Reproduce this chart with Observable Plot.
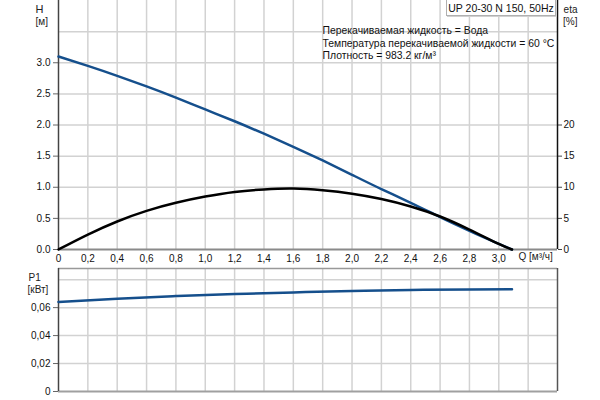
<!DOCTYPE html>
<html><head><meta charset="utf-8">
<script src="https://cdn.jsdelivr.net/npm/d3@7"></script>
<script src="https://cdn.jsdelivr.net/npm/@observablehq/plot@0.6"></script>
<style>
body{margin:0;background:#fff;}
#wrap{position:relative;width:600px;height:400px;overflow:hidden;font-family:"Liberation Sans",Arial,sans-serif;}
#top,#bot{position:absolute;left:0;}
#top{top:0}
#bot{top:267px}
#legend{position:absolute;left:446px;top:-2px;width:108px;height:16px;border:1px solid #b0b0b0;box-shadow:1px 1px 0 #d0d0d0;background:#fff;font-size:10.5px;line-height:18px;text-align:center;color:#111}
</style></head><body>
<div id="wrap"><div id="top"></div><div id="bot"></div><div id="legend">UP 20-30 N 150, 50Hz</div></div>
<script>
// Data
const qH   = [0, 0.2, 0.4, 0.6, 0.8, 1.0, 1.2, 1.4, 1.6, 1.8, 2.0, 2.2, 2.4, 2.6, 2.8, 3.0, 3.09];
const hVal = [3.10, 2.95, 2.79, 2.62, 2.44, 2.25, 2.06, 1.86, 1.65, 1.43, 1.20, 0.97, 0.75, 0.52, 0.30, 0.09, 0];
const etaVal = [0, 2.4, 4.5, 6.2, 7.5, 8.5, 9.25, 9.65, 9.78, 9.5, 8.95, 8.1, 6.9, 5.3, 3.2, 0.9, 0];
const qP   = [0, 0.4, 0.8, 1.2, 1.6, 2.0, 2.4, 2.8, 3.09];
const p1Val = [0.0641, 0.0664, 0.0683, 0.0697, 0.0709, 0.0719, 0.0726, 0.0730, 0.0731];

const qTicks = [0, 0.2, 0.4, 0.6, 0.8, 1.0, 1.2, 1.4, 1.6, 1.8, 2.0, 2.2, 2.4, 2.6, 2.8, 3.0];
const qGrid = [0.2, 0.4, 0.6, 0.8, 1.0, 1.2, 1.4, 1.6, 1.8, 2.0, 2.2, 2.4, 2.6, 2.8, 3.0, 3.2];
const hTicks = [0, 0.5, 1.0, 1.5, 2.0, 2.5, 3.0];
const hGrid = [0.5, 1.0, 1.5, 2.0, 2.5, 3.0, 3.5];
const etaTicks = [0, 5, 10, 15, 20];
const pTicks = [0, 0.02, 0.04, 0.06];
const pGrid = [0.02, 0.04, 0.06, 0.08];

const hData = qH.map((q, i) => ({q, h: hVal[i]}));
const etaData = qH.map((q, i) => ({q, eta: etaVal[i]}));
const pData = qP.map((q, i) => ({q, p: p1Val[i]}));

const blue = "#154f8c";
const gridStyle = {stroke: "#d2d2d2", strokeOpacity: 1, strokeWidth: 1.5};
const font = "Liberation Sans, Arial, sans-serif";
const commaFmt = (digits) => d => d === 0 ? "0" : d3.format("." + digits + "f")(d).replace(".", ",");

const topPlot = Plot.plot({
  width: 600, height: 268,
  marginLeft: 58, marginRight: 43, marginTop: 0, marginBottom: 19,
  x: {domain: [0, 3.4]},
  y: {domain: [0, 4]},
  style: {fontFamily: font, fontSize: "10px", color: "#111", background: "transparent", overflow: "visible"},
  marks: [
    Plot.gridX(qGrid, gridStyle),
    Plot.gridY(hGrid, gridStyle),
    Plot.axisY(hTicks, {tickFormat: d3.format(".1f"), tickSize: 5, tickPadding: 3, label: null, stroke: "#666", fontSize: 10}),
    Plot.axisY(etaTicks.map(v => v / 10), {anchor: "right", tickFormat: d => String(Math.round(d * 10)), tickSize: 4, tickPadding: 2, label: null, stroke: "#444", fontSize: 10}),
    Plot.axisX(qTicks, {tickFormat: commaFmt(1), tickSize: 0, tickPadding: 5, label: null, fontSize: 10}),
    Plot.ruleY([0], {stroke: "#8a8a8a", strokeWidth: 2}),
    Plot.ruleX([0], {stroke: "#444", strokeWidth: 1.5}),
    Plot.ruleX([3.4], {stroke: "#111", strokeWidth: 1.5}),
    Plot.line(hData, {x: "q", y: "h", stroke: blue, strokeWidth: 2.5, curve: "natural"}),
    Plot.line(etaData, {x: "q", y: d => d.eta / 10, stroke: "#000", strokeWidth: 2.5, curve: "natural"}),
    Plot.text(["H"], {frameAnchor: "top-left", dx: -23, dy: 5, fontSize: 11, fill: "#222"}),
    Plot.text(["[м]"], {frameAnchor: "top-left", dx: -23, dy: 17, fontSize: 10, fill: "#222"}),
    Plot.text(["eta"], {frameAnchor: "top-right", dx: 20, dy: 5, fontSize: 10, fill: "#222"}),
    Plot.text(["[%]"], {frameAnchor: "top-right", dx: 20, dy: 17, fontSize: 10, fill: "#222"}),
    Plot.text(["Q [м³/ч]"], {frameAnchor: "bottom-left", dx: 460, dy: 10, textAnchor: "start", fontSize: 10, fill: "#222"}),
    Plot.text(["Перекачиваемая жидкость = Вода"], {frameAnchor: "top-left", dx: 264, dy: 26, textAnchor: "start", fontSize: 10.4, fill: "#111"}),
    Plot.text(["Температура перекачиваемой жидкости = 60 °C"], {frameAnchor: "top-left", dx: 264, dy: 39, textAnchor: "start", fontSize: 10.4, fill: "#111"}),
    Plot.text(["Плотность = 983.2 кг/м³"], {frameAnchor: "top-left", dx: 264, dy: 51.5, textAnchor: "start", fontSize: 10.4, fill: "#111"})
  ]
});
document.getElementById("top").appendChild(topPlot);

const botPlot = Plot.plot({
  width: 600, height: 133,
  marginLeft: 58, marginRight: 43, marginTop: 1, marginBottom: 9,
  x: {domain: [0, 3.4], axis: null},
  y: {domain: [0, 0.088]},
  style: {fontFamily: font, fontSize: "10px", color: "#111", background: "transparent", overflow: "visible"},
  marks: [
    Plot.gridX(qGrid, gridStyle),
    Plot.gridY(pGrid, gridStyle),
    Plot.axisY(pTicks, {tickFormat: commaFmt(2), tickSize: 5, tickPadding: 3, label: null, stroke: "#666", fontSize: 10}),
    Plot.ruleY([0], {stroke: "#a0a0a0", strokeWidth: 2}),
    Plot.ruleY([0.088], {stroke: "#999", strokeWidth: 1.5}),
    Plot.ruleX([0], {stroke: "#444", strokeWidth: 1.5}),
    Plot.ruleX([3.4], {stroke: "#555", strokeWidth: 1.5}),
    Plot.line(pData, {x: "q", y: "p", stroke: blue, strokeWidth: 2.5, curve: "natural"}),
    Plot.text(["P1"], {frameAnchor: "top-left", dx: -30, dy: 5, fontSize: 10, fill: "#222"}),
    Plot.text(["[кВт]"], {frameAnchor: "top-left", dx: -31, dy: 17.5, fontSize: 10, fill: "#222"})
  ]
});
document.getElementById("bot").appendChild(botPlot);
</script>
</body></html>
